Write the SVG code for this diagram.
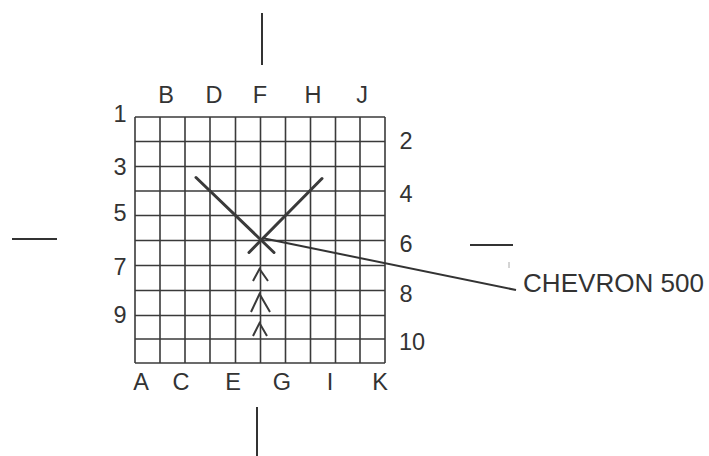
<svg xmlns="http://www.w3.org/2000/svg" width="709" height="456" viewBox="0 0 709 456">
<style>
  text { font-family: "Liberation Sans", Arial, sans-serif; fill: #333; }
  .lbl { font-size: 23.5px; text-anchor: middle; }
  .grid line { stroke: #3a3a3a; stroke-width: 1.6; }
  .mark { stroke: #333; stroke-width: 2; fill: none; }
  .heavy { stroke: #3a3a3a; stroke-width: 3; stroke-linecap: round; fill: none; }
  .chev { stroke: #3a3a3a; stroke-width: 2; fill: none; stroke-linejoin: miter; }
</style>
<rect width="709" height="456" fill="#fff"/>

<g id="grid" class="grid">
  <line x1="135" y1="117" x2="135" y2="363" stroke-width="2.2"/>
  <line x1="160" y1="117" x2="160" y2="363"/>
  <line x1="185" y1="117" x2="185" y2="363"/>
  <line x1="210" y1="117" x2="210" y2="363"/>
  <line x1="235.5" y1="117" x2="235.5" y2="363" stroke-width="2"/>
  <line x1="260.5" y1="117" x2="260.5" y2="363"/>
  <line x1="285.5" y1="117" x2="285.5" y2="363"/>
  <line x1="310.5" y1="117" x2="310.5" y2="363"/>
  <line x1="335.5" y1="117" x2="335.5" y2="363"/>
  <line x1="360" y1="117" x2="360" y2="363"/>
  <line x1="385" y1="117" x2="385" y2="363" stroke-width="2.2"/>
  <line x1="135" y1="117" x2="385" y2="117" stroke-width="2.2"/>
  <line x1="135" y1="141.5" x2="385" y2="141.5"/>
  <line x1="135" y1="166.5" x2="385" y2="166.5"/>
  <line x1="135" y1="191" x2="385" y2="191"/>
  <line x1="135" y1="215.5" x2="385" y2="215.5"/>
  <line x1="135" y1="240.5" x2="385" y2="240.5"/>
  <line x1="135" y1="265.5" x2="385" y2="265.5" stroke-width="2"/>
  <line x1="135" y1="290.5" x2="385" y2="290.5"/>
  <line x1="135" y1="315.5" x2="385" y2="315.5"/>
  <line x1="135" y1="339" x2="385" y2="339"/>
  <line x1="135" y1="363" x2="385" y2="363" stroke-width="2.2"/>
</g>

<g id="top-letters">
  <text class="lbl" x="166" y="103">B</text>
  <text class="lbl" x="214" y="103">D</text>
  <text class="lbl" x="260" y="103">F</text>
  <text class="lbl" x="313" y="103">H</text>
  <text class="lbl" x="362" y="103">J</text>
</g>
<g id="bottom-letters">
  <text class="lbl" x="141" y="390">A</text>
  <text class="lbl" x="181" y="390">C</text>
  <text class="lbl" x="233" y="390">E</text>
  <text class="lbl" x="282" y="390">G</text>
  <text class="lbl" x="330" y="390">I</text>
  <text class="lbl" x="380" y="390">K</text>
</g>
<g id="left-numbers">
  <text class="lbl" x="120" y="122">1</text>
  <text class="lbl" x="120" y="175">3</text>
  <text class="lbl" x="120" y="221">5</text>
  <text class="lbl" x="120" y="275">7</text>
  <text class="lbl" x="120" y="323">9</text>
</g>
<g id="right-numbers">
  <text class="lbl" x="406" y="149">2</text>
  <text class="lbl" x="406" y="202">4</text>
  <text class="lbl" x="406" y="252">6</text>
  <text class="lbl" x="406" y="302">8</text>
  <text class="lbl" x="412" y="350">10</text>
</g>

<g id="crosshairs" class="mark">
  <line x1="262" y1="13" x2="262" y2="65"/>
  <line x1="257" y1="407" x2="257" y2="456"/>
  <line x1="12" y1="239" x2="57" y2="239"/>
  <line x1="470" y1="245" x2="513" y2="245"/>
</g>

<g id="chevron-x">
  <line class="heavy" x1="196" y1="177.5" x2="274" y2="252.5"/>
  <line class="heavy" x1="322" y1="178.5" x2="249" y2="252.5"/>
</g>

<g id="arrows" class="chev">
  <polyline points="253,281 259.5,269 268,281"/>
  <polyline points="251,312 259.5,294 270,312"/>
  <polyline points="253,336 259.5,323 267,336"/>
</g>

<g id="connectors">
  <line x1="262" y1="238" x2="516" y2="290" stroke="#333" stroke-width="2"/>
  <line x1="509" y1="262" x2="509" y2="268" stroke="#aaa" stroke-width="1"/>
</g>

<g id="label">
  <text x="523" y="292" font-size="26" textLength="181" lengthAdjust="spacingAndGlyphs">CHEVRON 500</text>
</g>
</svg>
